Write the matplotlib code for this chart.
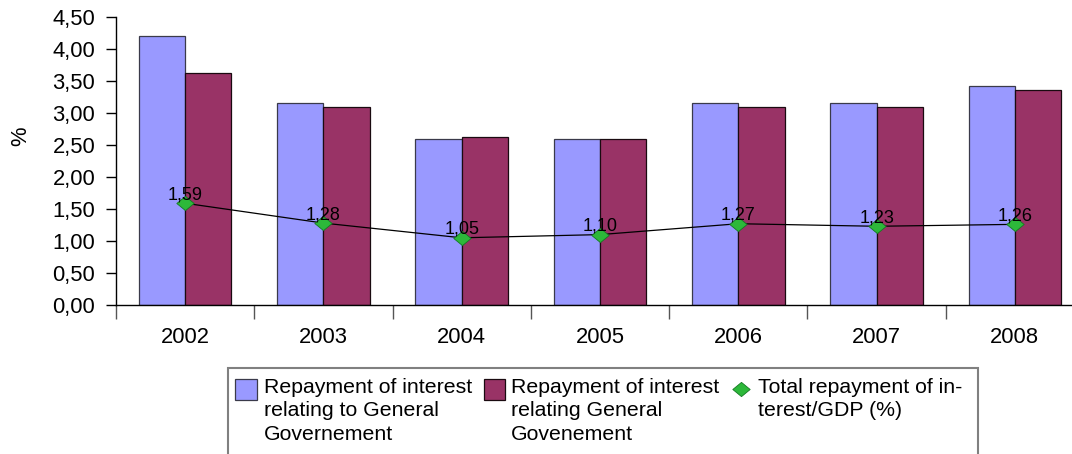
import matplotlib
matplotlib.use("Agg")
import matplotlib.pyplot as plt
import numpy as np
from matplotlib.patches import Rectangle
from matplotlib.lines import Line2D
from matplotlib.path import Path

years = ["2002", "2003", "2004", "2005", "2006", "2007", "2008"]
interest_to_gg = [4.20, 3.15, 2.59, 2.60, 3.15, 3.15, 3.42]
interest_gg = [3.63, 3.09, 2.62, 2.60, 3.10, 3.10, 3.36]
total_gdp = [1.59, 1.28, 1.05, 1.10, 1.27, 1.23, 1.26]
yticks = [0.0, 0.5, 1.0, 1.5, 2.0, 2.5, 3.0, 3.5, 4.0, 4.5]
legend_labels = ["Repayment of interest\nrelating to General\nGovernement",
                 "Repayment of interest\nrelating General\nGovenement",
                 "Total repayment of in-\nterest/GDP (%)"]

plt.rcParams['font.family'] = ['Liberation Sans', 'DejaVu Sans']

W, H = 1072, 454
fig = plt.figure(figsize=(W / 100, H / 100), dpi=100)
ax_left, ax_right, ax_top, ax_bottom = 116, 1084, 17, 305
ax = fig.add_axes([ax_left / W, 1 - ax_bottom / H, (ax_right - ax_left) / W, (ax_bottom - ax_top) / H])

diamond = Path([(-1.0, 0.0), (0.0, 0.82), (1.0, 0.0), (0.0, -0.82), (-1.0, 0.0)],
               [Path.MOVETO, Path.LINETO, Path.LINETO, Path.LINETO, Path.CLOSEPOLY])

x = np.arange(len(years))
bw = 0.335
c_blue = '#9999FF'
c_red = '#993366'
c_green = '#2DB83A'
c_green_edge = '#137A22'
ax.bar(x - bw / 2, interest_to_gg, bw, color=c_blue, edgecolor='#3a3a4a', linewidth=0.9, zorder=2)
ax.bar(x + bw / 2, interest_gg, bw, color=c_red, edgecolor='#1a0a10', linewidth=0.9, zorder=2)
ax.plot(x, total_gdp, color='black', linewidth=0.9, zorder=3)
ax.plot(x, total_gdp, linestyle='none', marker=diamond, markersize=12.5,
        markerfacecolor=c_green, markeredgecolor=c_green_edge, markeredgewidth=0.6, zorder=4)
for xi, v in zip(x, total_gdp):
    ax.annotate(f"{v:.2f}".replace('.', ','), (xi, v), xytext=(0, 4), textcoords='offset pixels',
                ha='center', va='baseline', fontsize=13, zorder=5)

ax.set_xlim(-0.5, len(years) - 0.5)
ax.set_ylim(0, 4.5)
ax.set_yticks(yticks)
ax.set_yticklabels([f"{t:.2f}".replace('.', ',') for t in yticks], fontsize=15.8)
ax.set_xticks(np.arange(len(years) + 1) - 0.5)
ax.set_xticklabels([])
ax.set_xticks(x, minor=True)
ax.set_xticklabels(years, minor=True, fontsize=15.8)
ax.tick_params(axis='x', which='major', direction='out', length=10, width=1, color='#555555')
ax.tick_params(axis='x', which='minor', length=0, pad=16)
ax.tick_params(axis='y', direction='out', length=7, width=1, pad=8)
for s in ['top', 'right']:
    ax.spines[s].set_visible(False)
ax.spines['left'].set_linewidth(1)
ax.spines['bottom'].set_linewidth(1)
ax.set_ylabel('%', fontsize=15.8)
ax.yaxis.set_label_coords((21 - ax_left) / (ax_right - ax_left), (ax_bottom - 136) / (ax_bottom - ax_top))
ax.yaxis.label.set_verticalalignment('center')

# legend box (cropped at bottom like the reference)
def fx(px):
    return px / W
def fy(py):
    return 1 - py / H

fig.patches.append(Rectangle((fx(228), fy(470)), fx(978) - fx(228), fy(368) - fy(470),
                             transform=fig.transFigure, facecolor='white', edgecolor='#808080',
                             linewidth=1.5, zorder=1))
fs = 15.3
ls = 1.3
ty = 378
# entry 1
fig.patches.append(Rectangle((fx(235), fy(400)), fx(257) - fx(235), fy(379) - fy(400),
                             transform=fig.transFigure, facecolor=c_blue, edgecolor='#3a3a4a',
                             linewidth=0.9, zorder=2))
fig.text(fx(264), fy(ty), legend_labels[0], fontsize=fs, va='top', ha='left', linespacing=ls)
# entry 2
fig.patches.append(Rectangle((fx(484), fy(400)), fx(505) - fx(484), fy(379) - fy(400),
                             transform=fig.transFigure, facecolor=c_red, edgecolor='#1a0a10',
                             linewidth=0.9, zorder=2))
fig.text(fx(511), fy(ty), legend_labels[1], fontsize=fs, va='top', ha='left', linespacing=ls)
# entry 3
fig.add_artist(Line2D([fx(741)], [fy(389)], marker=diamond, markersize=12.5, markerfacecolor=c_green,
                      markeredgecolor=c_green_edge, markeredgewidth=0.6, transform=fig.transFigure))
fig.text(fx(758), fy(ty), legend_labels[2], fontsize=fs, va='top', ha='left', linespacing=ls)

fig.savefig('out.png', dpi=100)
